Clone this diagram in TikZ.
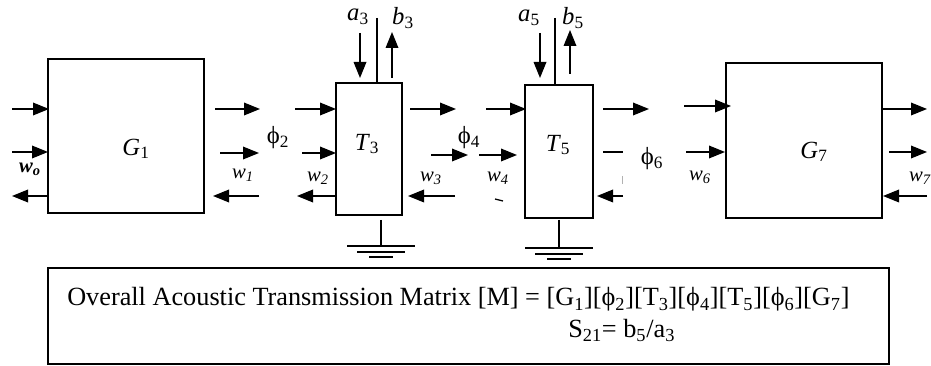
\documentclass[tikz,border=0pt]{standalone}
\usepackage{fontspec}
\setmainfont{Liberation Serif}
\usetikzlibrary{arrows.meta}
\tikzset{
blockbox/.style={draw,line width=1.1pt,inner sep=0pt},
port/.style={line width=0.95pt,-{Triangle[length=12pt,width=9.5pt]}},
plain/.style={line width=0.95pt},
earth/.style={line width=1pt},
symb/.style={font=\fontsize{18.5}{21}\selectfont,inner sep=0pt},
wave/.style={font=\fontsize{15.5}{18}\selectfont\itshape,inner sep=0pt},
note/.style={font=\fontsize{19.7}{22}\selectfont,inner sep=0pt,anchor=base west}
}
\begin{document}
\begin{tikzpicture}[x=0.75pt,y=-0.75pt]
\useasboundingbox(0,0)rectangle(931,366);
\node[blockbox,minimum width=117pt,minimum height=115.5pt](G1) at (126,136){};
\node[blockbox,minimum width=49.5pt,minimum height=99pt](T3) at (369,149){};
\node[blockbox,minimum width=51pt,minimum height=99.75pt](T5) at (559,151.5){};
\node[blockbox,minimum width=117pt,minimum height=116.25pt](G7) at (804,140.5){};
\node[blockbox,minimum width=630.75pt,minimum height=72pt](matrixbox) at (468.5,316){};
% arrows between the blocks
\foreach \n/\xa/\ya/\xb/\yb in {
a/12/109/49/109,b/12/152/48/152,c/48/196/12/196,
d/215/109/260/109,e/220/153/259/153,f/259/196/213/196,
g/295/109/336/109,h/302/153/336/153,i/336/196/297/196,
j/410/109/456/109,k/431/155/468/155,l/455/196/408/196,
m/486/109/526/109,n/479/155/517/155,
o/603/109/649/109,p/623/196/597/196,
q/684/106/731/106,r/686/152/725/152,
s/882/109/927/109,t/889/152/927/152,u/927/196/883/196,
v/360/33/360/78,w/392/78/392/32,
x/540/33/540/78,y/570/74/570/30}{
\coordinate(p\n) at (\xa,\ya);
\coordinate(q\n) at (\xb,\yb);
\draw[port](p\n)--(q\n);
}
% stems on top of the two T blocks
\coordinate(stemT) at (377,18);
\coordinate(stemF) at (555,18);
\draw[plain](stemT)--(stemT|-T3.north);
\draw[plain](stemF)--(stemF|-T5.north);
% leftovers
\coordinate(dasha) at (603,152);
\coordinate(dashb) at (623,152);
\draw[plain](dasha)--(dashb);
\coordinate(ticka) at (495,199);
\coordinate(tickb) at (503,201);
\draw[plain](ticka)--(tickb);
\coordinate(grya) at (622,176);
\coordinate(gryb) at (622,184);
\draw[gray!60,line width=0.4pt](grya)--(gryb);
% grounds
\foreach \n/\x/\y in {T/381/246,F/559/248}{
\coordinate(gnd\n) at (\x,220);
\coordinate(gndb\n) at (\x,\y);
\draw[plain](gnd\n)--(gndb\n);
\draw[earth]([xshift=-25.5pt]gndb\n)--([xshift=25.5pt]gndb\n);
\draw[earth]([xshift=-18pt,yshift=-4.5pt]gndb\n)--([xshift=18pt,yshift=-4.5pt]gndb\n);
\draw[line width=1.4pt]([xshift=-9pt,yshift=-8.5pt]gndb\n)--([xshift=9pt,yshift=-8.5pt]gndb\n);
}
% labels
\node[symb](lG1) at (136,149){\textit{G}\textsubscript{1}};
\node[symb](lT3) at (367,144){\textit{T}\textsubscript{3}};
\node[symb](lT5) at (558,145){\textit{T}\textsubscript{5}};
\node[symb](lG7) at (814,152){\textit{G}\textsubscript{7}};
\node[symb](la3) at (358,17){\textit{a}\textsubscript{3}};
\node[symb](lb3) at (403,18){\textit{b}\textsubscript{3}};
\node[symb](la5) at (529,18){\textit{a}\textsubscript{5}};
\node[symb](lb5) at (573,18){\textit{b}\textsubscript{5}};
\node[symb](lp2) at (278,138){ϕ\textsubscript{2}};
\node[symb](lp4) at (469,138){ϕ\textsubscript{4}};
\node[symb](lp6) at (652,159){ϕ\textsubscript{6}};
\node[wave,font=\fontsize{15.5}{18}\selectfont\bfseries\itshape](lw0) at (30,169){w\textsubscript{o}};
\node[wave](lw1) at (243,175){w\textsubscript{1}};
\node[wave](lw2) at (318,178){w\textsubscript{2}};
\node[wave](lw3) at (431,178){w\textsubscript{3}};
\node[wave](lw4) at (498,178){w\textsubscript{4}};
\node[wave](lw6) at (700,177){w\textsubscript{6}};
\node[wave](lw7) at (920,178){w\textsubscript{7}};
\node[note](eqa) at (67,306){Overall Acoustic Transmission Matrix [M] = [G\textsubscript{1}][ϕ\textsubscript{2}][T\textsubscript{3}][ϕ\textsubscript{4}][T\textsubscript{5}][ϕ\textsubscript{6}][G\textsubscript{7}]};
\node[note](eqb) at (568,337.5){S\textsubscript{21}= b\textsubscript{5}/a\textsubscript{3}};
\end{tikzpicture}
\end{document}
